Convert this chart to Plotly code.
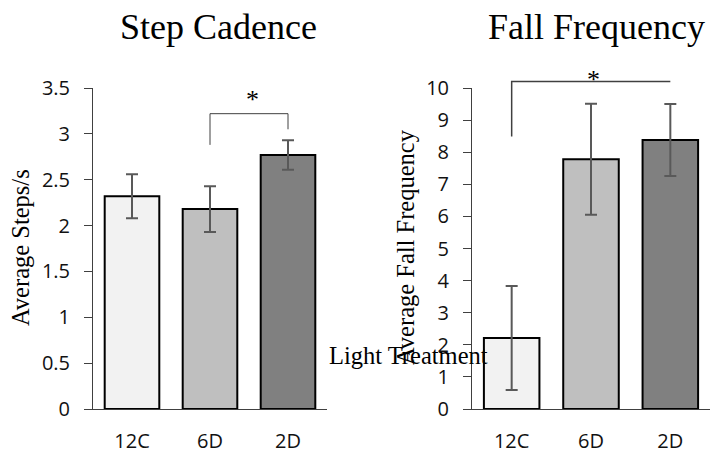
import plotly.graph_objects as go

categories = ["12C", "6D", "2D"]
bar_colors = ["#F2F2F2", "#BFBFBF", "#808080"]

step_values = [2.32, 2.18, 2.77]
step_errors = [0.24, 0.25, 0.16]

fall_values = [2.21, 7.78, 8.38]
fall_errors = [1.62, 1.73, 1.12]

step_yticks = [0, 0.5, 1, 1.5, 2, 2.5, 3, 3.5]
fall_yticks = [0, 1, 2, 3, 4, 5, 6, 7, 8, 9, 10]

# significance brackets: category pairs and heights (data units)
step_bracket_cats = ["6D", "2D"]
step_bracket_y = [2.88, 3.22, 3.05]   # left foot, bar, right foot
fall_bracket_cats = ["12C", "2D"]
fall_bracket_y = [8.49, 10.2, 10.2]

W, H = 713, 454
serif = "Liberation Serif, Times New Roman, serif"
sans = "Open Sans, sans-serif"

ydom = [(454 - 409) / H, (454 - 88) / H]


def to_paper(v, vmax):
    return ydom[0] + v / vmax * (ydom[1] - ydom[0])


fig = go.Figure()

fig.add_trace(go.Bar(
    x=categories, y=step_values, xaxis="x", yaxis="y",
    marker=dict(color=bar_colors, line=dict(color="#000000", width=2)),
    error_y=dict(type="data", array=step_errors, color="#595959", thickness=2, width=6),
    showlegend=False,
))
fig.add_trace(go.Bar(
    x=categories, y=fall_values, xaxis="x2", yaxis="y2",
    marker=dict(color=bar_colors, line=dict(color="#000000", width=2)),
    error_y=dict(type="data", array=fall_errors, color="#595959", thickness=2, width=6),
    showlegend=False,
))


def bracket(cats, ys, xref, vmax, color, width):
    i0 = categories.index(cats[0])
    i1 = categories.index(cats[1])
    yl, yb, yr = [to_paper(v, vmax) for v in ys]
    path = f"M {i0} {yl} L {i0} {yb} L {i1} {yb} L {i1} {yr}"
    return dict(type="path", path=path, xref=xref, yref="paper",
                line=dict(color=color, width=width), layer="above")


shapes = [
    bracket(step_bracket_cats, step_bracket_y, "x", 3.5, "#404040", 1),
    bracket(fall_bracket_cats, fall_bracket_y, "x2", 10, "#404040", 1.5),
]

axis_common = dict(
    showgrid=False, zeroline=False, showline=True, linecolor="#404040", linewidth=1,
    automargin=False,
    tickfont=dict(family=sans, size=20, color="#111111"),
)

def ann(text, x, y, size, angle=0, family=serif):
    return dict(text=text, x=x / W, y=1 - y / H, xref="paper", yref="paper",
                xanchor="center", yanchor="middle", textangle=angle,
                showarrow=False, font=dict(family=family, size=size, color="black"))

fig.update_layout(
    width=W, height=H, autosize=False,
    margin=dict(l=0, r=0, t=0, b=0, pad=0, autoexpand=False),
    paper_bgcolor="white", plot_bgcolor="white",
    bargap=0.3,
    xaxis=dict(domain=[93 / W, 327 / W], anchor="y", type="category",
               ticks="", ticklabelstandoff=14, **axis_common),
    yaxis=dict(domain=ydom, anchor="x", range=[0, 3.5], tickvals=step_yticks,
               ticks="outside", ticklen=8, tickcolor="#404040",
               ticklabelstandoff=10, **axis_common),
    xaxis2=dict(domain=[472 / W, 710 / W], anchor="y2", type="category",
                ticks="", ticklabelstandoff=14, **axis_common),
    yaxis2=dict(domain=ydom, anchor="x2", range=[0, 10], tickvals=fall_yticks,
                ticks="outside", ticklen=8, tickcolor="#404040",
                ticklabelstandoff=10, **axis_common),
    shapes=shapes,
    annotations=[
        ann("Step Cadence", 218, 27, 36),
        ann("Fall Frequency", 596, 27, 36),
        ann("Average Steps/s", 20, 248, 24.5, -90),
        ann("Average Fall Frequency", 405, 247, 24.5, -90),
        ann("Light Treatment", 408, 355, 24.5),
        ann("*", 252, 100, 26),
        ann("*", 593, 79, 26),
    ],
)

fig.write_html("out.html")
